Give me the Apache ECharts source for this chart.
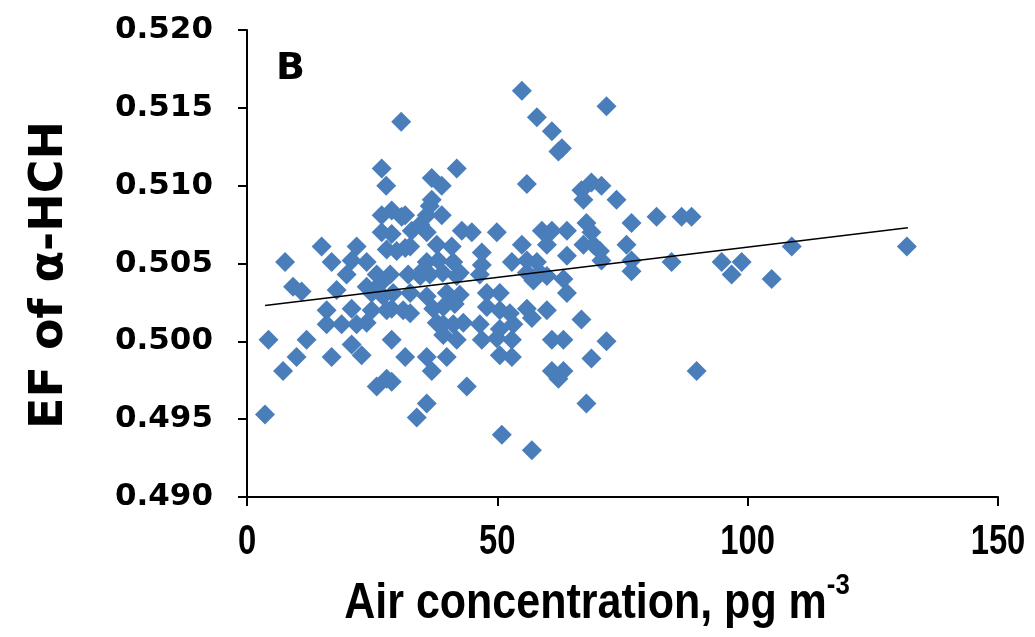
<!DOCTYPE html>
<html>
<head>
<meta charset="utf-8">
<script src="https://cdn.jsdelivr.net/npm/echarts@6/dist/echarts.min.js"></script>
<style>
html,body{margin:0;padding:0;background:#fff;}
#chart{width:1035px;height:637px;}
</style>
</head>
<body>
<div id="chart"></div>
<script>
// Air concentration (pg m-3)
const airConc = [
54.9,71.8,57.9,30.8,60.9,62.2,62.9,41.9,26.9,36.9,27.8,38.9,55.9,68.8,70.8,66.8,67.2,73.8,36.9,
81.8,86.8,88.8,67.8,68.8,63.9,76.8,67.2,69.2,70.5,75.8,63.9,70.8,76.8,84.8,94.8,98.8,76.8,96.8,
108.8,131.8,104.8,63.2,63.9,66.8,63.2,71.8,68.8,63.2,89.8,67.8,
38.9,35.9,31.6,32.9,35.9,42.9,44.9,49.9,58.9,60.9,32.6,37.9,40.9,54.9,46.9,59.9,
35.9,38.2,52.9,55.9,57.9,46.9,32.2,36.5,39.1,42.5,46.5,55.9,58.5,
28.9,26.9,30.9,26.9,28.9,27.9,29.9,31.6,14.9,7.6,16.9,21.9,20.9,23.9,19.9,25.9,28.6,
9.2,10.9,17.9,26.6,24.9,27.2,15.9,20.9,24.9,28.9,31.2,15.9,18.9,21.9,4.3,11.9,20.9,22.9,28.9,
9.9,16.9,31.6,7.2,25.9,27.9,28.9,3.6,33.9,
34.6,41.9,57.2,59.9,32.6,35.9,39.9,42.5,47.9,50.5,32.6,37.2,47.9,50.5,52.5,55.9,56.9,59.9,
39.2,41.2,43.2,46.5,50.5,53.2,39.2,41.9,46.9,49.9,52.9,60.9,35.9,39.9,50.5,52.9,
36.9,60.9,62.2,43.9,35.9,50.9,56.9,
34.6,36.5,35.2,41.2,29.2,27.9,39.2,41.5,37.9,23.9,23.9
];
// EF of alpha-HCH
const efValues = [
0.5161,0.5151,0.5144,0.5141,0.5135,0.5122,0.5124,0.5111,0.5111,0.5105,0.5100,0.5100,0.5101,0.5102,0.5100,0.5097,0.5091,0.5091,0.5091,
0.5080,0.5080,0.5080,0.5076,0.5070,0.5071,0.5076,0.5062,0.5062,0.5058,0.5062,0.5055,0.5052,0.5052,0.5051,0.5051,0.5051,0.5045,0.5043,
0.5061,0.5061,0.5040,0.5040,0.5031,0.5014,0.5001,0.5000,0.4989,0.4981,0.4981,0.4960,
0.5081,0.5081,0.5081,0.5071,0.5070,0.5071,0.5070,0.5070,0.5071,0.5071,0.5061,0.5062,0.5061,0.5062,0.5057,0.5062,
0.5051,0.5052,0.5051,0.5052,0.5051,0.5049,0.5043,0.5043,0.5044,0.5044,0.5043,0.5044,0.5044,
0.5084,0.5081,0.5080,0.5070,0.5069,0.5059,0.5058,0.5060,0.5061,0.5051,0.5051,0.5061,0.5052,0.5051,0.5043,0.5043,0.5043,
0.5035,0.5032,0.5033,0.5037,0.5031,0.5029,0.5020,0.5021,0.5020,0.5021,0.5020,0.5011,0.5011,0.5011,0.5001,0.5001,0.4998,0.4991,0.5001,
0.4990,0.4990,0.4990,0.4981,0.4971,0.4976,0.4974,0.4953,0.4951,
0.5042,0.5042,0.5039,0.5042,0.5031,0.5029,0.5031,0.5030,0.5031,0.5031,0.5018,0.5021,0.5022,0.5020,0.5018,0.5021,0.5015,0.5020,
0.5011,0.5011,0.5012,0.5011,0.5008,0.5011,0.5004,0.5001,0.5001,0.5002,0.5001,0.5001,0.4990,0.4990,0.4991,0.4990,
0.4981,0.4981,0.4976,0.4971,0.4960,0.4940,0.4930,
0.5075,0.5087,0.5046,0.5051,0.5031,0.5020,0.5022,0.5024,0.5012,0.5012,0.5035
];
// Linear trend line end points
const trendX = [3.6, 132];
const trendY = [0.5023, 0.5073];

const xTickLabels = [0, 50, 100, 150];
const yTicks = {min: 0.490, max: 0.520, interval: 0.005};

const points = airConc.map((x, i) => [x, efValues[i]]);
const trend = trendX.map((x, i) => [x, trendY[i]]);

const chart = echarts.init(document.getElementById('chart'));
const axisCommon = {
  axisLine: {show: true, lineStyle: {color: '#000', width: 2}},
  axisTick: {show: true, inside: false, length: 9, lineStyle: {color: '#000', width: 2}},
  splitLine: {show: false}
};
const condensed = 'bold 42px "Liberation Sans", Arial, sans-serif';
chart.setOption({
  animation: false,
  backgroundColor: '#fff',
  grid: {left: 247, right: 37, top: 30, bottom: 140, containLabel: false},
  xAxis: Object.assign({
    type: 'value', min: xTickLabels[0], max: xTickLabels[xTickLabels.length - 1],
    interval: xTickLabels[1] - xTickLabels[0],
    axisLabel: {show: false}
  }, axisCommon),
  yAxis: Object.assign({
    type: 'value', min: yTicks.min, max: yTicks.max, interval: yTicks.interval,
    axisLabel: {margin: 34, color: '#000', fontFamily: 'DejaVu Sans', fontWeight: 'bold', fontSize: 31,
      formatter: v => v.toFixed(3)}
  }, axisCommon),
  series: [
    {type: 'scatter', data: points, symbol: 'diamond', symbolSize: 20,
      itemStyle: {color: '#4a7ebb', opacity: 1}, z: 2},
    {type: 'line', data: trend, symbol: 'none', lineStyle: {color: '#000', width: 1.6}, z: 3, silent: true}
  ]
});

// x tick labels placed at the axis' own pixel positions, in a condensed face
const graphics = [
  {type: 'text', left: 276, top: 50, style: {text: 'B', font: 'bold 38px "DejaVu Sans"', fill: '#000'}},
  {type: 'text', x: 50, y: 275, rotation: Math.PI / 2,
    style: {text: 'EF of α-HCH', font: 'bold 46px "DejaVu Sans"', fill: '#000', align: 'center', verticalAlign: 'middle'}},
  {type: 'text', x: 597, y: 600, scaleX: 0.86,
    style: {
      text: '{a|Air concentration, pg m}{s|-3}',
      align: 'center', verticalAlign: 'middle',
      rich: {
        a: {font: 'bold 50px "Liberation Sans", Arial', fill: '#000', verticalAlign: 'bottom'},
        s: {font: 'bold 30px "Liberation Sans", Arial', fill: '#000', verticalAlign: 'top', padding: [0,0,28,0]}
      }
    }}
];
const axisY = chart.convertToPixel({yAxisIndex: 0}, yTicks.min);
xTickLabels.forEach(v => {
  const px = chart.convertToPixel({xAxisIndex: 0}, v);
  graphics.push({type: 'text', x: px, y: axisY + 24, scaleX: 0.78,
    style: {text: String(v), font: condensed, fill: '#000', align: 'center', verticalAlign: 'top'}});
});
chart.setOption({graphic: graphics});
</script>
</body>
</html>
